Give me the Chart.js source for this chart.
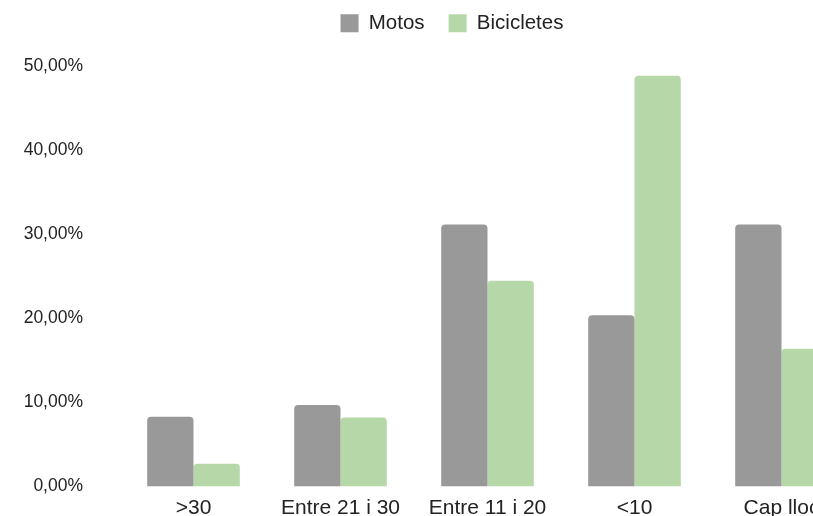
<!DOCTYPE html>
<html>
<head>
<meta charset="utf-8">
<script src="https://cdn.jsdelivr.net/npm/chart.js@4/dist/chart.umd.min.js"></script>
<style>
  html, body { margin: 0; padding: 0; background: #fff; overflow: hidden; }
  #wrap { width: 904px; height: 534px; }
</style>
</head>
<body>
<div id="wrap"><canvas id="chart" width="904" height="534"></canvas></div>
<script>
const categories = [">30", "Entre 21 i 30", "Entre 11 i 20", "<10", "Cap lloc"];
const motos = [8.3, 9.7, 31.2, 20.4, 31.2];
const bicicletes = [2.7, 8.2, 24.5, 48.9, 16.4];
const yTicks = [0, 10, 20, 30, 40, 50];

const FONT = "Arial, 'Liberation Sans', sans-serif";
const ctx = document.getElementById("chart").getContext("2d");

// extra space between the legend and the plot
const legendGap = {
  id: "legendGap",
  afterInit(chart) {
    const fit = chart.legend.fit;
    chart.legend.fit = function () {
      fit.call(this);
      this.height += 23;
    };
  },
};

new Chart(ctx, {
  type: "bar",
  data: {
    labels: categories,
    datasets: [
      {
        label: "Motos",
        data: motos,
        backgroundColor: "#999999",
        borderRadius: 4,
      },
      {
        label: "Bicicletes",
        data: bicicletes,
        backgroundColor: "#b6d7a8",
        borderRadius: 4,
      },
    ],
  },
  plugins: [legendGap],
  options: {
    responsive: false,
    animation: false,
    layout: { padding: { top: -11, left: 0, right: 0, bottom: 0 } },
    datasets: {
      bar: { barPercentage: 1, categoryPercentage: 0.63 },
    },
    plugins: {
      tooltip: { enabled: false },
      legend: {
        position: "top",
        labels: {
          boxWidth: 18,
          boxHeight: 18,
          padding: 24,
          color: "#222",
          font: { family: FONT, size: 20.5 },
        },
      },
    },
    scales: {
      x: {
        grid: { display: false, drawTicks: false },
        border: { display: false },
        ticks: {
          padding: 9.5,
          color: "#222",
          maxRotation: 0,
          autoSkip: false,
          font: { family: FONT, size: 21 },
        },
      },
      y: {
        min: 0,
        max: 50,
        afterFit: (scale) => { scale.width = 120; },
        afterBuildTicks: (scale) => {
          scale.ticks = yTicks.map((v) => ({ value: v }));
        },
        grid: { display: false, drawTicks: false },
        border: { display: false },
        ticks: {
          padding: 37,
          color: "#222",
          font: { family: FONT, size: 17.5 },
          callback: (value) => value.toFixed(2).replace(".", ",") + "%",
        },
      },
      y2: {
        position: "right",
        display: true,
        afterFit: (scale) => { scale.width = 49; },
        grid: { display: false, drawTicks: false },
        border: { display: false },
        ticks: { display: false },
      },
    },
  },
});
</script>
</body>
</html>
